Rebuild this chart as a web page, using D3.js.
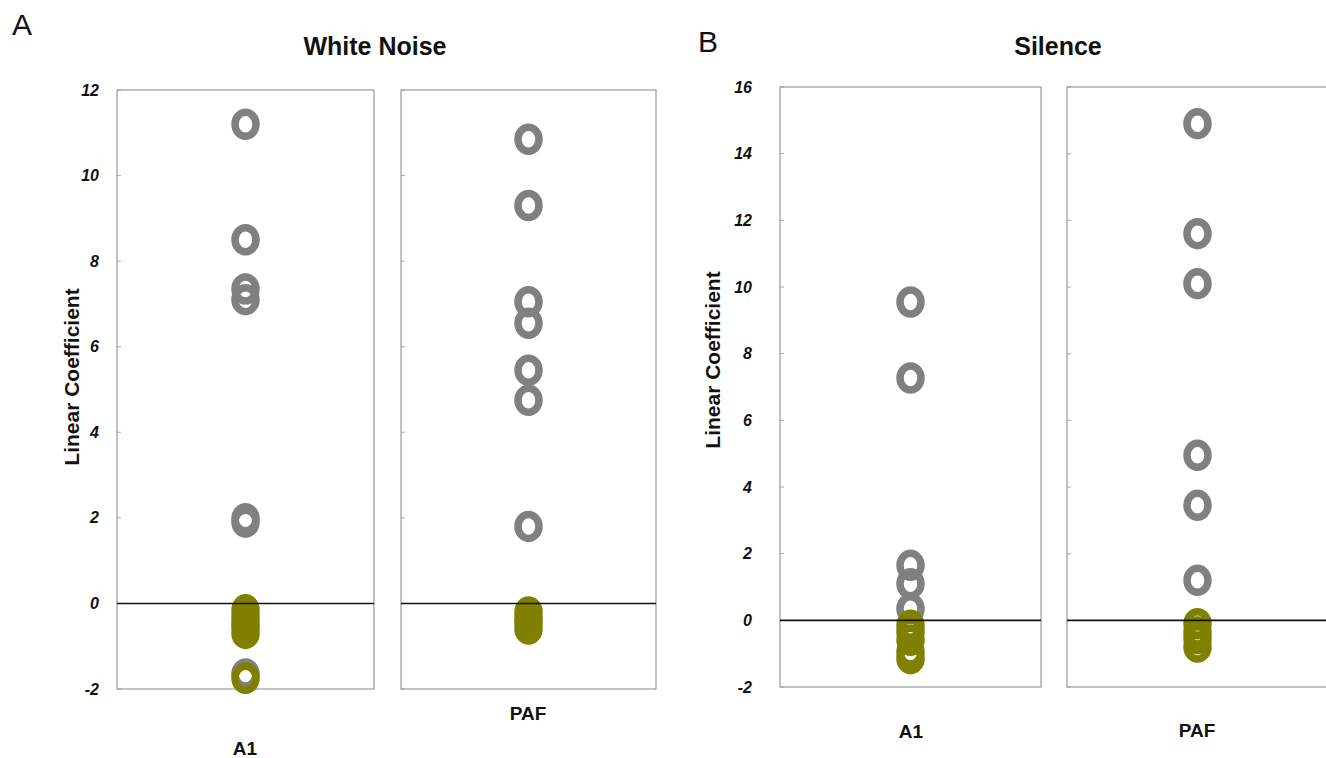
<!DOCTYPE html>
<html>
<head>
<meta charset="utf-8">
<script src="https://cdn.jsdelivr.net/npm/d3@7"></script>
<style>
  body { margin:0; background:#fff; font-family:"Liberation Sans", Arial, sans-serif; }
</style>
</head>
<body>
<div id="canvas"></div>
<script>
// values (gray = n.s. rings, olive = highlighted rings)
var wnA1Gray   = [11.2, 8.5, 7.35, 7.1, 1.98, 1.9, -1.65];
var wnA1Olive  = [-0.15, -0.3, -0.45, -0.55, -0.7, -1.75];
var wnPAFGray  = [10.85, 9.3, 7.05, 6.55, 5.45, 4.75, 1.8];
var wnPAFOlive = [-0.2, -0.35, -0.45, -0.6];
var silA1Gray   = [9.55, 7.27, 1.65, 1.1, 0.35];
var silA1Olive  = [-0.15, -0.35, -0.6, -0.95, -1.15];
var silPAFGray  = [14.9, 11.6, 10.1, 4.95, 3.45, 1.2];
var silPAFOlive = [-0.1, -0.35, -0.55, -0.8];

var wnTicks  = [-2, 0, 2, 4, 6, 8, 10, 12];
var silTicks = [-2, 0, 2, 4, 6, 8, 10, 12, 14, 16];

var W = 1326, H = 758;
var svg = d3.select('#canvas').append('svg')
    .attr('width', W).attr('height', H);

var gray = '#808080', olive = '#808000';

// one box per region
function drawBox(x0, x1, y, ticks, labelPad, gv, ov) {
  var g = svg.append('g');
  if (labelPad) {
    var yAxis = d3.axisLeft(y).tickValues(ticks).tickSize(0).tickPadding(labelPad)
        .tickFormat(function(d){ return String(d); });
    var ax = g.append('g').attr('transform', 'translate(' + x0 + ',0)').call(yAxis);
    ax.select('.domain').remove();
    ax.attr('font-size', 16);
    ax.selectAll('text')
      .attr('font-size', 16).attr('font-weight', 'bold').attr('font-style', 'italic')
      .attr('fill', '#111').attr('font-family', '"Liberation Sans", Arial, sans-serif');
  }
  // inner tick marks
  g.selectAll('.itick').data(ticks).enter().append('line')
    .attr('x1', x0).attr('x2', x0 + 4)
    .attr('y1', function(d){ return y(d); }).attr('y2', function(d){ return y(d); })
    .attr('stroke', '#aaa').attr('stroke-width', 1);
  g.append('rect')
    .attr('x', x0).attr('y', y.range()[1])
    .attr('width', x1 - x0).attr('height', y.range()[0] - y.range()[1])
    .attr('fill', 'none').attr('stroke', '#999').attr('stroke-width', 1.2);

  var cx = (x0 + x1) / 2;
  g.selectAll('.g').data(gv).enter().append('ellipse')
    .attr('cx', cx).attr('cy', function(d){ return y(d); })
    .attr('rx', 10.5).attr('ry', 12).attr('fill', 'none')
    .attr('stroke', gray).attr('stroke-width', 7.5);
  g.selectAll('.o').data(ov).enter().append('ellipse')
    .attr('cx', cx).attr('cy', function(d){ return y(d); })
    .attr('rx', 10.5).attr('ry', 12).attr('fill', 'none')
    .attr('stroke', olive).attr('stroke-width', 7.5);

  g.append('line')
    .attr('x1', x0).attr('x2', x1)
    .attr('y1', y(0)).attr('y2', y(0))
    .attr('stroke', '#111').attr('stroke-width', 1.6);
}

// A: white noise
var yA = d3.scaleLinear().domain([-2, 12]).range([689, 90]);
drawBox(117, 374, yA, wnTicks, 18, wnA1Gray, wnA1Olive);
drawBox(401, 656, yA, wnTicks, 0, wnPAFGray, wnPAFOlive);

// B: silence
var yB = d3.scaleLinear().domain([-2, 16]).range([687, 87]);
drawBox(780, 1041, yB, silTicks, 28, silA1Gray, silA1Olive);
drawBox(1067, 1328, yB, silTicks, 0, silPAFGray, silPAFOlive);

// texts
function txt(x, y, s, size, weight, anchor, rot) {
  var t = svg.append('text').attr('x', x).attr('y', y).text(s)
    .attr('font-size', size).attr('font-weight', weight)
    .attr('text-anchor', anchor || 'middle').attr('fill', '#111');
  if (rot) t.attr('transform', 'rotate(' + rot + ',' + x + ',' + y + ')');
  return t;
}
txt(12, 35, 'A', 30, 'normal', 'start');
txt(698, 52, 'B', 30, 'normal', 'start');
txt(375, 55, 'White Noise', 25, 'bold');
txt(1058, 55, 'Silence', 25, 'bold');
txt(79, 377, 'Linear Coefficient', 21, 'bold', 'middle', -90);
txt(720, 360, 'Linear Coefficient', 21, 'bold', 'middle', -90);
txt(245, 755, 'A1', 19, 'bold');
txt(528, 720, 'PAF', 19, 'bold');
txt(911, 738, 'A1', 19, 'bold');
txt(1197, 737, 'PAF', 19, 'bold');
</script>
</body>
</html>
